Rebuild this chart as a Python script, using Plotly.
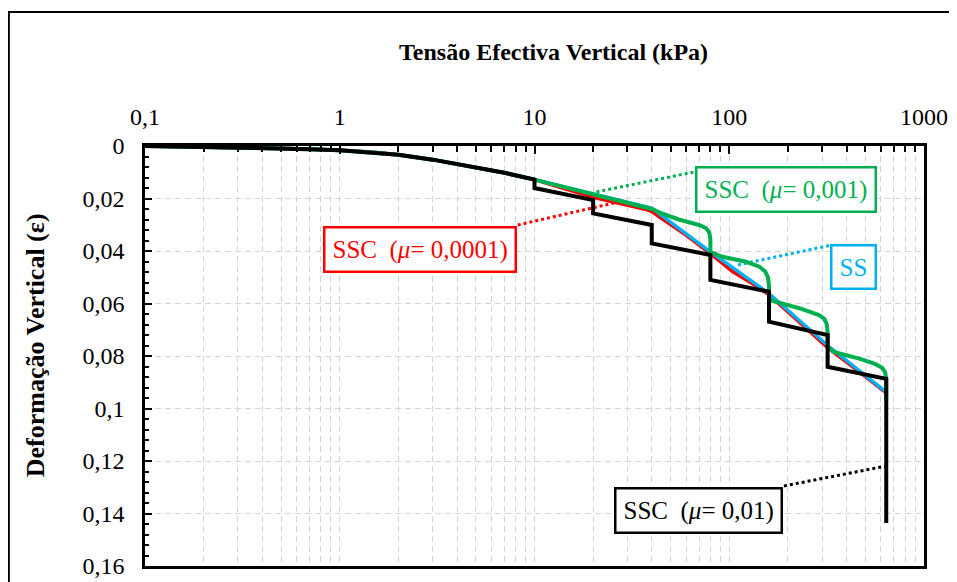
import plotly.graph_objects as go

# common initial compression curve (kPa, strain)
base_x = [0.1, 0.2, 0.3, 0.5, 0.7, 1, 1.5, 2, 3, 5, 7, 10]
base_y = [0, 0.0003, 0.0005, 0.0009, 0.0012, 0.0016, 0.0024, 0.0033, 0.0052, 0.0083, 0.0102, 0.0128]

# SSC mu = 0.0001 (red)
red_x = [20, 38, 40, 45, 60, 80, 104, 137, 160, 230, 320, 460, 640]
red_y = [0.0195, 0.0243, 0.0250, 0.0276, 0.0339, 0.0410, 0.0478, 0.0532, 0.0567, 0.0672, 0.0768, 0.0858, 0.0940]

# SS (blue)
blue_x = [20, 40, 80, 160, 320, 640]
blue_y = [0.0184, 0.0237, 0.0403, 0.0562, 0.0760, 0.0938]

# SSC mu = 0.001 (green)
green_x = [20, 35, 40, 44, 55, 70, 76, 79, 80, 80, 92, 122, 143, 153, 158, 160, 160,
           167, 229, 289, 308, 317, 320, 320, 345, 465, 560, 610, 632, 640, 640]
green_y = [0.0184, 0.0229, 0.0240, 0.0254, 0.0280, 0.0301, 0.0313, 0.0330, 0.0355, 0.0403,
           0.0422, 0.0441, 0.0460, 0.0478, 0.0500, 0.0530, 0.0582,
           0.0590, 0.0618, 0.0644, 0.0658, 0.0680, 0.0710, 0.0764, 0.0785, 0.0810, 0.0830,
           0.0845, 0.0862, 0.0890, 0.0970]

# SSC mu = 0.01 (black)
black_x = [10, 20, 20, 40, 40, 80, 80, 160, 160, 320, 320, 640, 640]
black_y = [0.0160, 0.0206, 0.0257, 0.0301, 0.0371, 0.0415, 0.0510, 0.0555, 0.0669, 0.0720,
           0.0841, 0.0887, 0.1436]

# axis ticks
x_ticks = [0.1, 1, 10, 100, 1000]
x_labels = ["0,1", "1", "10", "100", "1000"]
x_minor = [m * 10 ** e for e in [-1, 0, 1, 2] for m in range(2, 10)]
y_ticks = [0, 0.02, 0.04, 0.06, 0.08, 0.1, 0.12, 0.14, 0.16]
y_labels = ["0", "0,02", "0,04", "0,06", "0,08", "0,1", "0,12", "0,14", "0,16"]

# label boxes: text, colour, position (log10 x, strain), leader line ends
labels = [
    ("SSC\u00a0\u00a0(<i>μ</i>= 0,0001)", "#FF0000", 0.41, 0.0396, [8.2, 25.6], [0.0301, 0.0217]),
    ("SSC\u00a0\u00a0(<i>μ</i>= 0,001)", "#00B050", 2.292, 0.0164, [20.8, 66], [0.0175, 0.0099]),
    ("SS", "#00B0F0", 2.636, 0.0461, [111, 337], [0.0453, 0.0377]),
    ("SSC\u00a0\u00a0(<i>μ</i>= 0,01)", "#000000", 1.841, 0.139, [191, 640], [0.1295, 0.1219]),
]

FONT = "Liberation Serif"

fig = go.Figure()

# leader lines
for text, col, ax_, ay_, lx, ly in labels:
    fig.add_trace(go.Scatter(x=lx, y=ly, mode="lines", hoverinfo="skip",
                             line=dict(color=col, width=3, dash="dot")))

fig.add_trace(go.Scatter(x=base_x + red_x, y=base_y + red_y, mode="lines", name="SSC (0,0001)",
                         line=dict(color="#FF0000", width=3.5)))
fig.add_trace(go.Scatter(x=base_x + blue_x, y=base_y + blue_y, mode="lines", name="SS",
                         line=dict(color="#00B0F0", width=3.5)))
fig.add_trace(go.Scatter(x=base_x + green_x, y=base_y + green_y, mode="lines", name="SSC (0,001)",
                         line=dict(color="#00B050", width=4)))
fig.add_trace(go.Scatter(x=base_x + black_x, y=base_y + black_y, mode="lines", name="SSC (0,01)",
                         line=dict(color="#000000", width=4)))

for text, col, ax_, ay_, lx, ly in labels:
    fig.add_annotation(x=ax_, y=ay_, text=text, showarrow=False,
                       font=dict(family=FONT, size=25, color=col),
                       bordercolor=col, borderwidth=2.5, borderpad=7, bgcolor="white")

# axis titles
fig.add_annotation(x=0.525, y=1.224, xref="paper", yref="paper", showarrow=False,
                   xanchor="center", yanchor="middle",
                   text="<b>Tensão Efectiva Vertical (kPa)</b>",
                   font=dict(family=FONT, size=24, color="black"))
fig.add_annotation(x=-0.141, y=0.526, xref="paper", yref="paper", showarrow=False,
                   xanchor="center", yanchor="middle",
                   text="<b>Deformação Vertical (ε)</b>", textangle=-90,
                   font=dict(family=FONT, size=26, color="black"))

# outer chart border
fig.add_shape(type="rect", xref="paper", yref="paper", x0=-0.1748, x1=1.2, y0=-0.2, y1=1.319,
              line=dict(color="black", width=2))

grid = "#D4D4D4"
fig.update_xaxes(type="log", side="top", range=[-1, 3], automargin=False,
                 tickvals=x_ticks, ticktext=x_labels,
                 ticks="inside", ticklen=8, tickwidth=2, tickcolor="black",
                 ticklabelstandoff=9,
                 showgrid=True, gridcolor=grid, griddash="6px,4px", gridwidth=1.4,
                 minor=dict(tickvals=x_minor, ticks="inside", ticklen=6, tickwidth=1.5,
                            tickcolor="black", showgrid=True, gridcolor=grid,
                            griddash="6px,4px", gridwidth=1.4),
                 showline=True, linecolor="black", linewidth=2.5, mirror=True,
                 zeroline=False,
                 tickfont=dict(family=FONT, size=24, color="black"))
fig.update_yaxes(range=[0.16, 0], automargin=False, tickvals=y_ticks, ticktext=y_labels,
                 ticks="inside", ticklen=7, tickwidth=2, tickcolor="black",
                 ticklabelstandoff=13,
                 showgrid=True, gridcolor=grid, griddash="6px,4px", gridwidth=1.4,
                 minor=dict(dtick=0.004, ticks="inside", ticklen=4, tickwidth=1.5,
                            tickcolor="black", showgrid=False),
                 showline=True, linecolor="black", linewidth=2.5, mirror=True,
                 zeroline=False,
                 tickfont=dict(family=FONT, size=24, color="black"))

# page body adds an 8px offset, so the figure is shrunk and margins shifted
fig.update_layout(width=949, height=574, showlegend=False,
                  margin=dict(l=137, r=33, t=138, b=16),
                  plot_bgcolor="white", paper_bgcolor="white",
                  font=dict(family=FONT))

fig.write_html("out.html")
